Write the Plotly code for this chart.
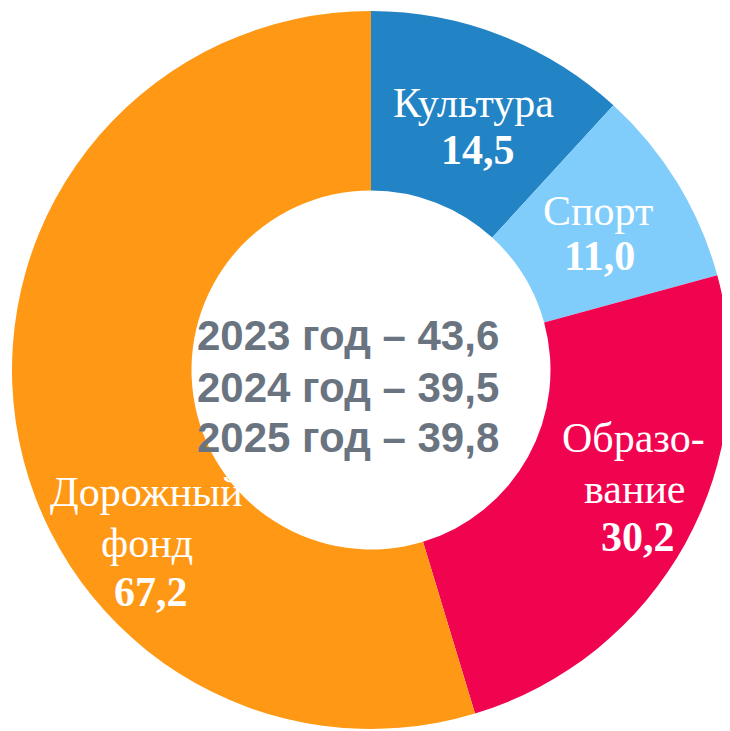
import plotly.graph_objects as go

# data
categories = ["Культура", "Спорт", "Образование", "Дорожный фонд"]
label_lines = [["Культура"], ["Спорт"], ["Образо-", "вание"], ["Дорожный", "фонд"]]
values = [14.5, 11.0, 30.2, 67.2]
colors = ["#2283C5", "#80CDFB", "#F0034F", "#FF9815"]
center_lines = ["2023 год – 43,6", "2024 год – 39,5", "2025 год – 39,8"]

W, H = 730, 731
OFF = 8  # page body margin shifts everything by 8px

# text positions in screen pixels (x, y per line), last line is the value
label_px = [
    [(473, 103), (478, 150)],
    [(598, 211), (599, 256)],
    [(633, 438), (635, 489), (638, 537)],
    [(146, 492), (147, 543), (151, 592)],
]
center_px = [(348, 335), (348, 387), (348, 437)]


def px(x, y):
    return (x - OFF) / W, 1 - (y - OFF) / H


def fmt(v):
    return f"{v:.1f}".replace(".", ",")


fig = go.Figure()
fig.add_trace(go.Pie(
    labels=categories,
    values=values,
    hole=0.5,
    sort=False,
    direction="clockwise",
    rotation=0,
    marker=dict(colors=colors, line=dict(width=0)),
    textinfo="none",
    hoverinfo="label+value",
    showlegend=False,
    domain=dict(x=[4 / W, 722 / W], y=[1 - 721 / H, 1 - 3 / H]),
))

for lines, v, pos in zip(label_lines, values, label_px):
    texts = lines + [f"<b>{fmt(v)}</b>"]
    for t, (x, y) in zip(texts, pos):
        xp, yp = px(x, y)
        fig.add_annotation(
            x=xp, y=yp, xref="paper", yref="paper", text=t,
            showarrow=False, xanchor="center", yanchor="middle",
            font=dict(family="Liberation Serif", size=42, color="white"),
        )

for t, (x, y) in zip(center_lines, center_px):
    xp, yp = px(x, y)
    fig.add_annotation(
        x=xp, y=yp, xref="paper", yref="paper", text=f"<b>{t}</b>",
        showarrow=False, xanchor="center", yanchor="middle",
        font=dict(family="Liberation Sans", size=42, color="#6A7480"),
    )

fig.update_layout(
    width=W, height=H,
    margin=dict(l=0, r=0, t=0, b=0),
    paper_bgcolor="white",
    plot_bgcolor="white",
)

fig.write_html("out.html")
